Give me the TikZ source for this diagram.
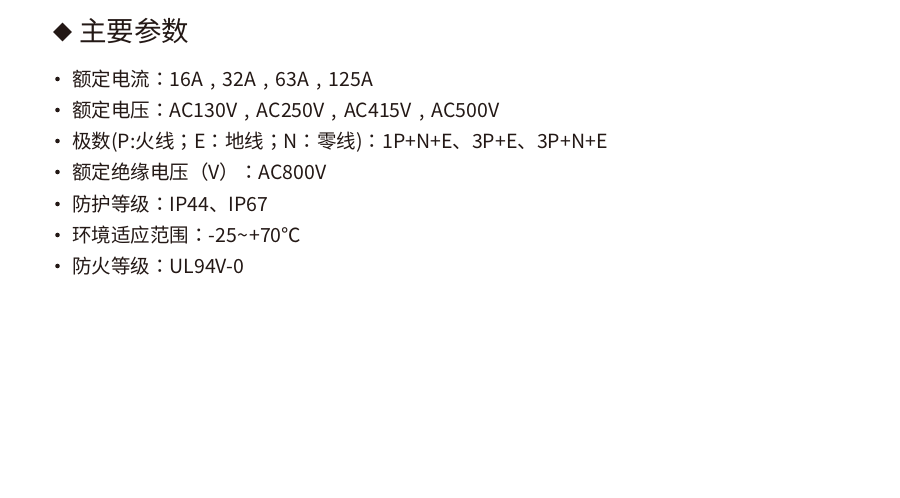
\documentclass[tikz,border=0pt]{standalone}
\usepackage{fontspec}
\setmainfont{Noto Sans CJK SC}
\newfontfamily\tcfont{Noto Sans CJK TC}
\usetikzlibrary{shapes.geometric}
\definecolor{ink}{HTML}{231815}
\newcommand{\cma}{\makebox[1em]{,}}
\newcommand{\cln}{{\tcfont ：}}
\newcommand{\smc}{{\tcfont ；}}
\newcommand{\tld}{\makebox[0.62em]{\char"007E}}
\tikzset{
  item/.style={anchor=west, inner sep=0pt, text=ink, font=\fontsize{19.5}{22}\selectfont,
    text height=0.88em, text depth=0.12em},
  heading/.style={item, font=\fontsize{27.5}{30}\selectfont},
}
\begin{document}
\begin{tikzpicture}[x=1pt,y=-1pt]
  \useasboundingbox[fill=white] (0,0) rectangle (900,498);
  % title
  \node[diamond, fill=ink, inner sep=0pt, minimum width=19pt, minimum height=19pt] (mark) at (62.5,32) {};
  \node[heading] (title) at (79,37.5) {主要参数};
  % bullets
  \fill[ink] (57.5,79) circle (2.3);
  \fill[ink] (57.5,110) circle (2.3);
  \fill[ink] (57.5,141) circle (2.3);
  \fill[ink] (57.5,172) circle (2.3);
  \fill[ink] (57.5,204) circle (2.3);
  \fill[ink] (57.5,235) circle (2.3);
  \fill[ink] (57.5,266) circle (2.3);
  % items
  \node[item] (current) at (72,83) {额定电流\cln 16A\cma 32A\cma 63A\cma 125A};
  \node[item] (voltage) at (72,114) {额定电压\cln AC130V\cma AC250V\cma AC415V\cma AC500V};
  \node[item] (poles) at (72,145) {极数(P:火线\smc E\cln 地线\smc N\cln 零线)\cln 1P+N+E、3P+E、3P+N+E};
  \node[item] (insul) at (72,176) {额定绝缘电压（V）\cln AC800V};
  \node[item] (ip) at (72,208) {防护等级\cln IP44、IP67};
  \node[item] (temp) at (72,239) {环境适应范围\cln -25\tld+70℃};
  \node[item] (fire) at (72,270) {防火等级\cln UL94V-0};
\end{tikzpicture}
\end{document}
